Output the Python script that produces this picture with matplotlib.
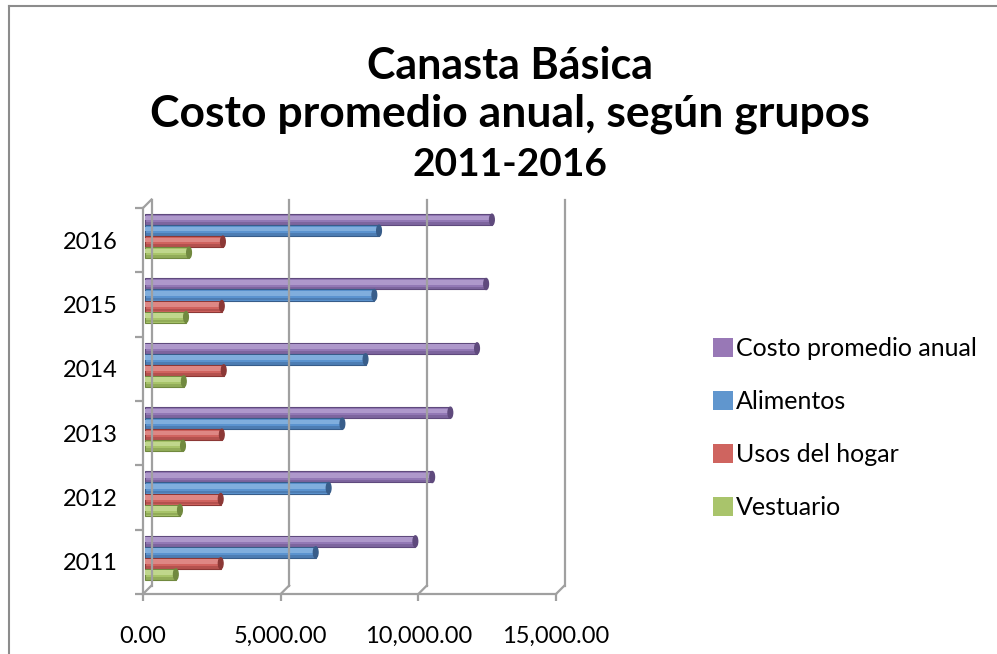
import matplotlib.pyplot as plt
import matplotlib.transforms as mtransforms
from matplotlib.patches import Ellipse, Patch
from matplotlib.lines import Line2D

plt.rcParams["font.family"] = ["Lato", "DejaVu Sans"]

years = ["2011", "2012", "2013", "2014", "2015", "2016"]
series = ["Costo promedio anual", "Alimentos", "Usos del hogar", "Vestuario"]
costo = [9820, 10430, 11090, 12060, 12390, 12600]
alimentos = [6200, 6670, 7170, 8010, 8330, 8500]
usos_hogar = [2750, 2750, 2790, 2860, 2790, 2830]
vestuario = [1120, 1270, 1380, 1410, 1490, 1600]
x_ticks = [0, 5000, 10000, 15000]

values = [costo, alimentos, usos_hogar, vestuario]
face = ["#9278B5", "#5B93CF", "#D0635F", "#A8C46A"]
light = ["#AE98CB", "#80AEDD", "#DE8784", "#C0D78C"]
dark = ["#5F4A7D", "#385D8A", "#8C3836", "#71893F"]
legend_col = ["#9878B6", "#6096CE", "#CF645F", "#A9C46B"]
grid = "#A0A0A0"

W, H = 997, 654
fig = plt.figure(figsize=(W / 100, H / 100), dpi=100)

# front plane of the 3D box, in pixels
left, right, top, bottom = 143, 556, 208, 594
ax = fig.add_axes([left / W, 1 - bottom / H, (right - left) / W, (bottom - top) / H])
ax.set_xlim(0, 15000)
ax.set_ylim(-0.5, 5.5)
ax.patch.set_visible(False)
for s in ["top", "right"]:
    ax.spines[s].set_visible(False)
for s in ["left", "bottom"]:
    ax.spines[s].set_color(grid)
    ax.spines[s].set_linewidth(1.6)

ax.set_xticks(x_ticks)
ax.set_xticklabels([f"{v:,.2f}" for v in x_ticks], fontsize=17)
ax.set_yticks(range(len(years)))
ax.set_yticklabels(years, fontsize=17)
ax.set_yticks([i - 0.5 for i in range(len(years) + 1)], minor=True)
ax.tick_params(axis="y", which="major", length=0, pad=18)
ax.tick_params(axis="y", which="minor", length=6, width=1.6, color=grid)
ax.tick_params(axis="x", length=5, width=1.6, color=grid, pad=18)

back = ax.transData + mtransforms.ScaledTranslation(0.085, 0.085, fig.dpi_scale_trans)
mid = ax.transData + mtransforms.ScaledTranslation(0.02, 0.04, fig.dpi_scale_trans)

# back wall gridlines and depth edges
for xv in x_ticks:
    ax.plot([xv, xv], [-0.5, 5.5], color=grid, lw=1.6, transform=back, clip_on=False)
for xv in x_ticks:
    p0 = ax.transData.transform((xv, -0.5))
    p1 = back.transform((xv, -0.5))
    fig.add_artist(Line2D([p0[0] / W, p1[0] / W], [p0[1] / H, p1[1] / H], color=grid, lw=1.6))
p0 = ax.transData.transform((0, 5.5))
p1 = back.transform((0, 5.5))
fig.add_artist(Line2D([p0[0] / W, p1[0] / W], [p0[1] / H, p1[1] / H], color=grid, lw=1.6))

# bars, with a bit of shading for the cylinder look
bh = 0.171
offsets = [1.5 * bh, 0.5 * bh, -0.5 * bh, -1.5 * bh]
for vals, off, fc, lc, dc in zip(values, offsets, face, light, dark):
    for i, v in enumerate(vals):
        y = i + off
        ax.barh(y, v, height=bh, color=fc, edgecolor=dc, linewidth=0.8,
                transform=mid, clip_on=False)
        ax.barh(y + bh * 0.15, v, height=bh * 0.45, color=lc, linewidth=0,
                transform=mid, clip_on=False)
        ax.barh(y - bh * 0.36, v, height=bh * 0.24, color=dc, alpha=0.4, linewidth=0,
                transform=mid, clip_on=False)
        ax.add_patch(Ellipse((v, y), 170, bh, facecolor=dc, edgecolor=dc,
                             transform=mid, clip_on=False))

# legend
handles = [Patch(facecolor=c, edgecolor="none") for c in legend_col]
fig.legend(handles, series, loc="center left", bbox_to_anchor=(690 / W, 1 - 428 / H),
           frameon=False, fontsize=18, handlelength=0.8, handleheight=0.8,
           handletextpad=0.15, labelspacing=1.2)

# titles
fig.text(510 / W, 1 - 66 / H, "Canasta Básica", ha="center", va="center",
         fontsize=31, fontweight="bold")
fig.text(510 / W, 1 - 114 / H, "Costo promedio anual, según grupos", ha="center",
         va="center", fontsize=32, fontweight="bold")
fig.text(510 / W, 1 - 165 / H, "2011-2016", ha="center", va="center",
         fontsize=28, fontweight="bold")

# chart area border
fig.add_artist(Line2D([8.5 / W, 1], [1 - 5.5 / H, 1 - 5.5 / H], color="#8C8C8C", lw=1.5))
fig.add_artist(Line2D([8.5 / W, 8.5 / W], [0, 1 - 5.5 / H], color="#8C8C8C", lw=1.5))

fig.savefig("out.png", dpi=100)
